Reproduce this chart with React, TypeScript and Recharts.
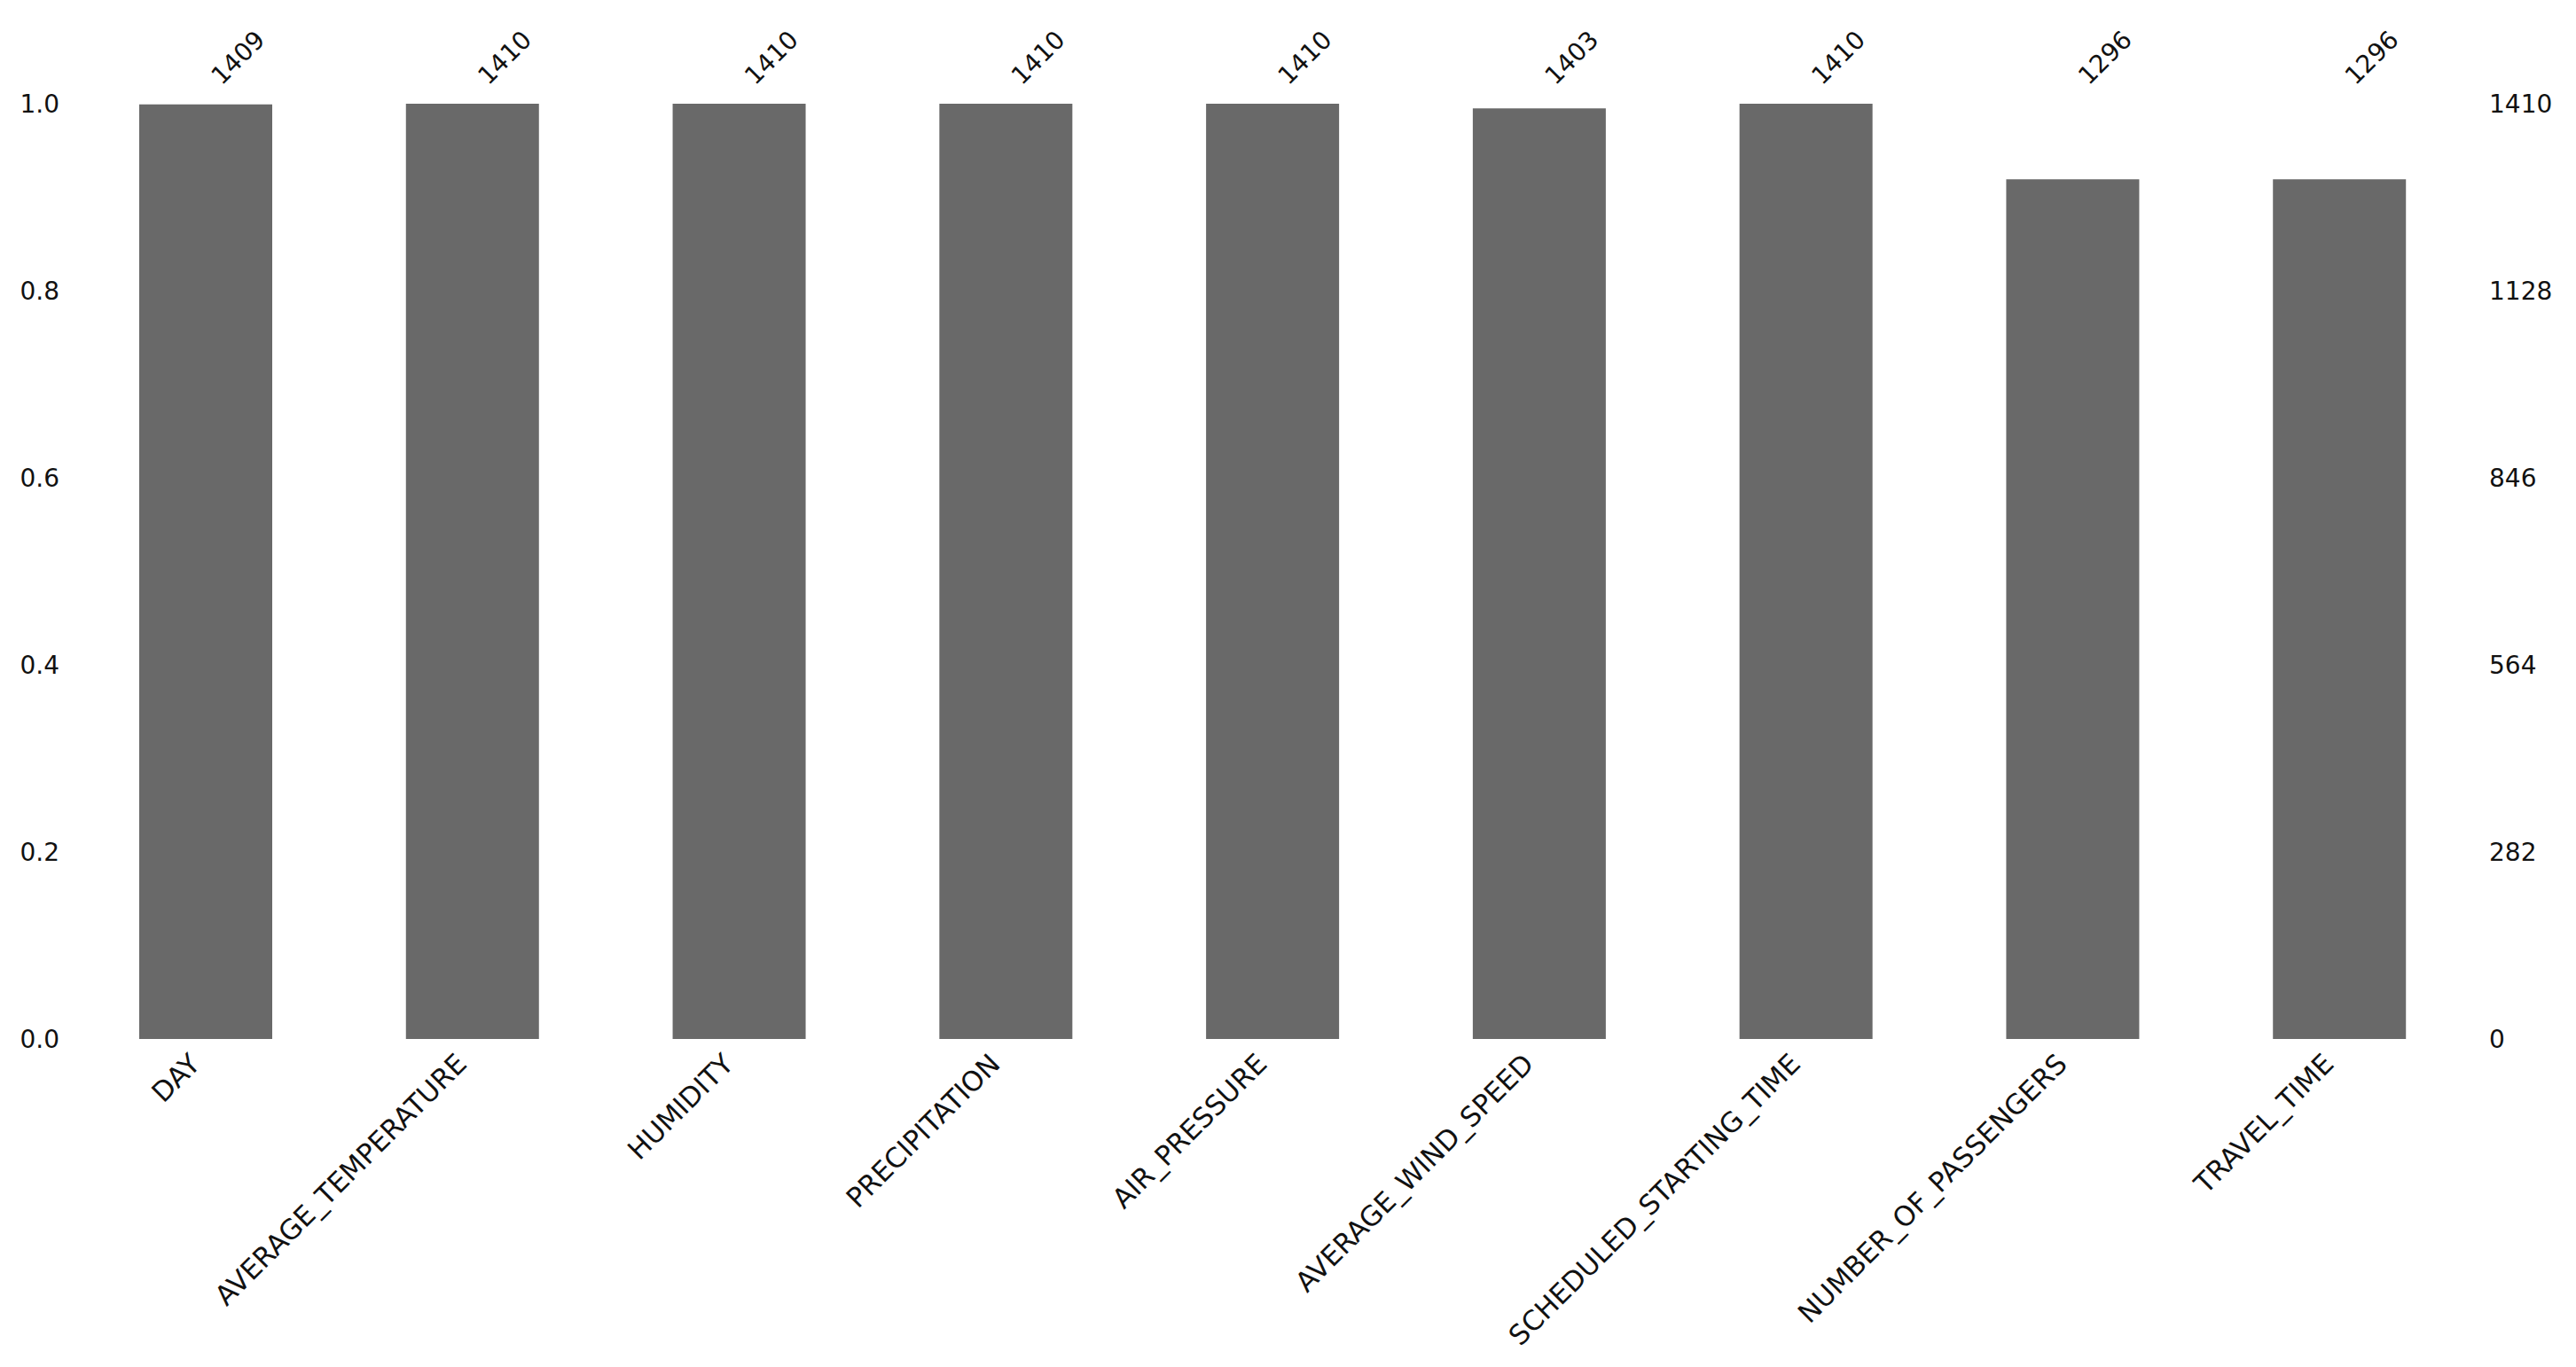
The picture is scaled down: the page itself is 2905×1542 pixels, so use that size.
import { ComposedChart, Bar, Line, XAxis, YAxis, LabelList } from 'recharts';

// column names and non-null counts (missingno style bar chart)
const columns = [
  'DAY',
  'AVERAGE_TEMPERATURE',
  'HUMIDITY',
  'PRECIPITATION',
  'AIR_PRESSURE',
  'AVERAGE_WIND_SPEED',
  'SCHEDULED_STARTING_TIME',
  'NUMBER_OF_PASSENGERS',
  'TRAVEL_TIME',
];
const counts = [1409, 1410, 1410, 1410, 1410, 1403, 1410, 1296, 1296];
const totalRows = 1410;
const fractionTicks = [0, 0.2, 0.4, 0.6, 0.8, 1.0];
const countTicks = [0, 282, 564, 846, 1128, 1410];

const FONT = '"DejaVu Sans", sans-serif';
const FONT_SIZE = 28;
const LABEL_SIZE = 31;

const data = columns.map((name, i) => ({
  name,
  count: counts[i],
  frac: counts[i] / totalRows,
}));

function BottomTick({ x, y, payload }: any) {
  return (
    <text
      transform={`translate(${x - 5},${y + 22}) rotate(-45)`}
      textAnchor="end"
      fontFamily={FONT}
      fontSize={LABEL_SIZE}
      fill="#111"
    >
      {payload.value}
    </text>
  );
}

// count labels sit on a common line above the plot, like a twin top axis
function TopCount(props: any) {
  const vb = props.viewBox || props;
  const { x, y, width, height } = vb;
  const value = Number(props.value);
  const cx = x + width / 2;
  const plotTop = y + height - (height * totalRows) / value;
  return (
    <text
      transform={`translate(${cx + 18},${plotTop - 20}) rotate(-45)`}
      textAnchor="start"
      fontFamily={FONT}
      fontSize={FONT_SIZE}
      fill="#111"
    >
      {value}
    </text>
  );
}

export default function App() {
  return (
    <div style={{ width: 2905, height: 1542, background: '#fff' }}>
      <style>{'body{margin:0}'}</style>
      <ComposedChart
        width={2905}
        height={1542}
        data={data}
        margin={{ top: 117, right: 0, bottom: 0, left: 0 }}
      >
        <XAxis
          dataKey="name"
          height={370}
          axisLine={false}
          tickLine={false}
          interval={0}
          tick={<BottomTick />}
        />
        <YAxis
          yAxisId="frac"
          orientation="left"
          width={82}
          type="number"
          domain={[0, 1]}
          ticks={fractionTicks}
          tickFormatter={(v: number) => v.toFixed(1)}
          axisLine={false}
          tickLine={false}
          tickMargin={9}
          tick={{ fontFamily: FONT, fontSize: FONT_SIZE, fill: '#111' }}
        />
        <YAxis
          yAxisId="count"
          orientation="right"
          width={116}
          type="number"
          domain={[0, totalRows]}
          ticks={countTicks}
          axisLine={false}
          tickLine={false}
          tickMargin={12}
          tick={{ fontFamily: FONT, fontSize: FONT_SIZE, fill: '#111', textAnchor: 'start' }}
        />
        <Bar
          yAxisId="count"
          dataKey="count"
          fill="#696969"
          barSize={150}
          isAnimationActive={false}
        >
          <LabelList dataKey="count" content={<TopCount />} />
        </Bar>
        {/* invisible series so the fraction axis gets drawn */}
        <Line
          yAxisId="frac"
          dataKey="frac"
          stroke="none"
          dot={false}
          activeDot={false}
          isAnimationActive={false}
        />
      </ComposedChart>
    </div>
  );
}
